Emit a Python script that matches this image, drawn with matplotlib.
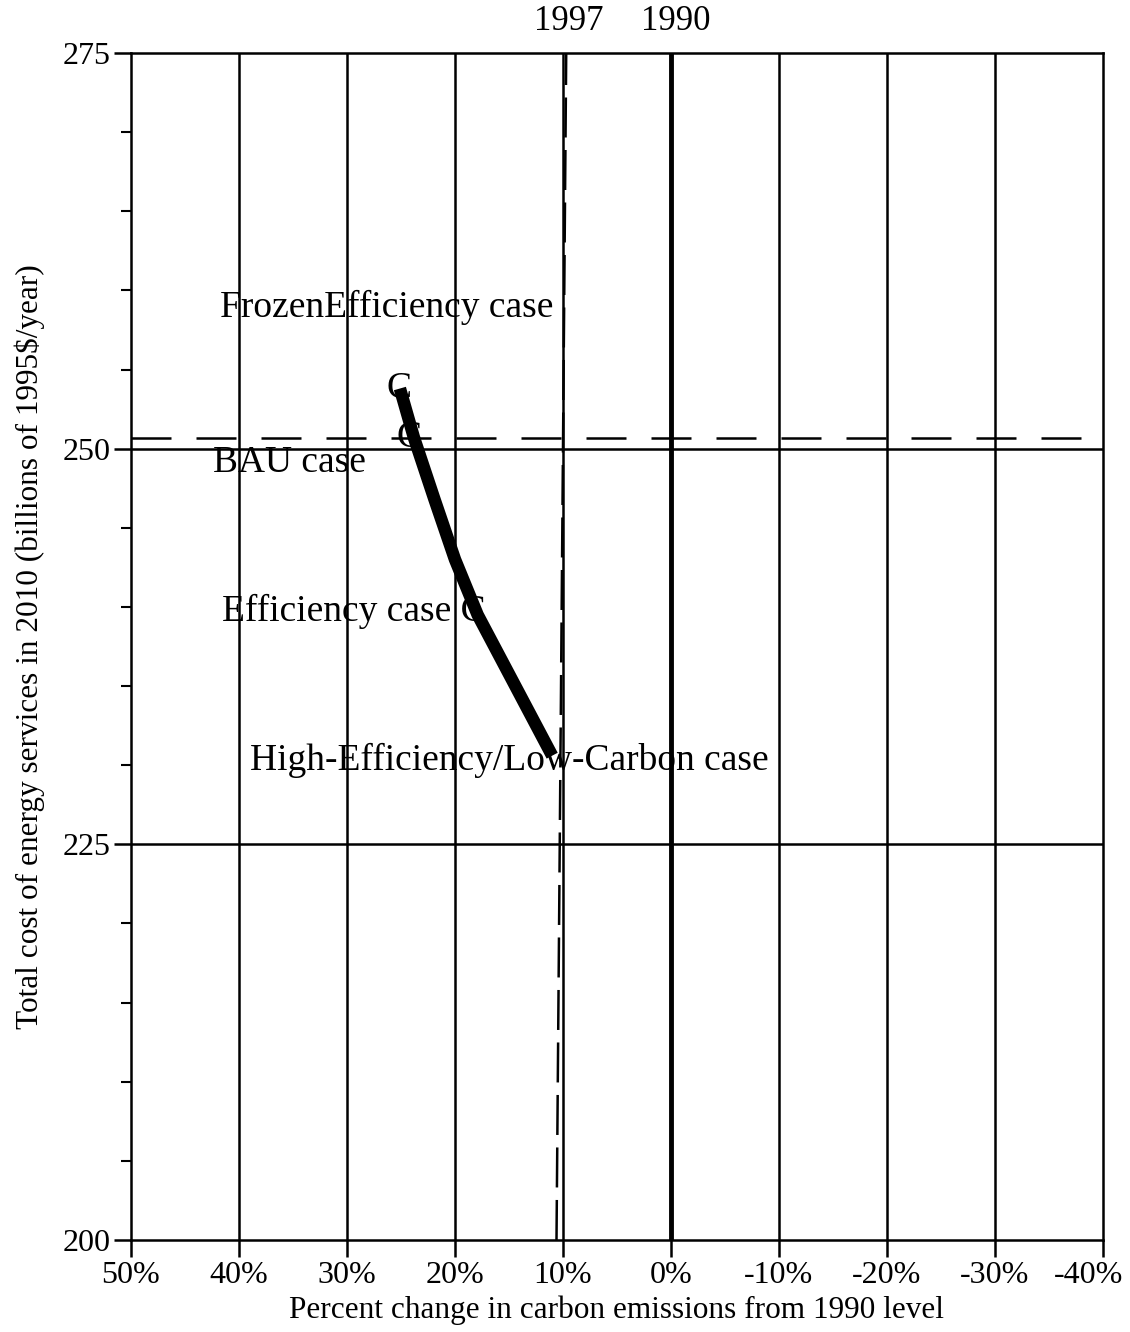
"""
Cost of energy services vs carbon emissions change (2010 scenarios)
"""

import matplotlib.pyplot as plt
import matplotlib.transforms as mtransforms
from matplotlib.ticker import MultipleLocator, FixedLocator

plt.rcParams["font.family"] = ["Liberation Serif", "DejaVu Serif"]

# ---------------------------------------------------------------------------
# Data
# ---------------------------------------------------------------------------
x_ticks = [50, 40, 30, 20, 10, 0, -10, -20, -30, -40]
x_labels = ["50%", "40%", "30%", "20%", "10%", "0%", "-10%", "-20%", "-30%", "-40%"]
y_ticks = [200, 225, 250, 275]

# scenario curve: percent change in emissions, cost (billions 1995$/yr)
curve_pct = [25.1, 23.8, 21.9, 20.0, 17.9, 11.0]
curve_cost = [253.8, 250.7, 246.8, 243.0, 239.5, 230.6]

frozen_cost = 250.7
grid_cost = [225, 250]
grid_pct = [40, 30, 20, 10, -10, -20, -30]

# 1997 emissions reference (slightly slanted dashed line in the original)
line_1997_pct = [10.6, 9.7]
line_1997_cost = [200, 275]

# text labels: (text, x %, y cost) -- baseline positions
labels = [
    ("FrozenEfficiency case", 41.8, 258.3),
    ("BAU case", 42.4, 248.55),
    ("Efficiency case C", 41.6, 239.1),
    ("High-Efficiency/Low-Carbon case", 39.0, 229.7),
    ("C", 26.3, 253.2),
    ("C", 25.4, 250.1),
]
year_labels = [("1997", 9.5), ("1990", -0.4)]

# ---------------------------------------------------------------------------
# Plot
# ---------------------------------------------------------------------------
fig = plt.figure(figsize=(11.3, 13.32), dpi=100)
ax = fig.add_axes([0.1159, 0.0691, 0.8602, 0.8911])

ax.set_xlim(50, -40)
ax.set_ylim(200, 275)

for x in grid_pct:
    ax.axvline(x, color="black", lw=1.8, zorder=1)
ax.axvline(0, color="black", lw=3.5, zorder=1)
for y in grid_cost:
    ax.axhline(y, color="black", lw=1.8, zorder=1)

ax.axhline(frozen_cost, color="black", lw=1.8, dashes=(16, 10), zorder=2)
ax.plot(line_1997_pct, line_1997_cost, color="black", lw=1.8,
        dashes=(16, 5), zorder=2)

ax.plot(curve_pct, curve_cost, color="black", lw=9, solid_capstyle="butt",
        solid_joinstyle="round", zorder=3)

for text, x, y in labels:
    ax.text(x, y, text, fontsize=27, ha="left", va="baseline", zorder=4)

for text, x in year_labels:
    ax.text(x, 276.45, text, fontsize=25, ha="center", va="baseline")

ax.xaxis.set_major_locator(FixedLocator(x_ticks))
ax.set_xticklabels(x_labels)
ax.yaxis.set_major_locator(FixedLocator(y_ticks))
ax.yaxis.set_minor_locator(MultipleLocator(5))
ax.tick_params(axis="both", which="major", direction="out", length=12,
               width=1.8, labelsize=23, pad=3)
ax.tick_params(axis="y", which="minor", direction="out", length=7, width=1.5)

# last x label sits a little left of its tick in the original
last = ax.get_xticklabels()[-1]
last.set_transform(last.get_transform() +
                   mtransforms.ScaledTranslation(-0.14, 0, fig.dpi_scale_trans))

for s in ax.spines.values():
    s.set_linewidth(1.8)

ax.set_xlabel("Percent change in carbon emissions from 1990 level",
              fontsize=22.5, labelpad=4)
ax.set_ylabel("Total cost of energy services in 2010 (billions of 1995$/year)",
              fontsize=22.5, labelpad=12)

fig.savefig("out.png", dpi=100)
plt.close(fig)
